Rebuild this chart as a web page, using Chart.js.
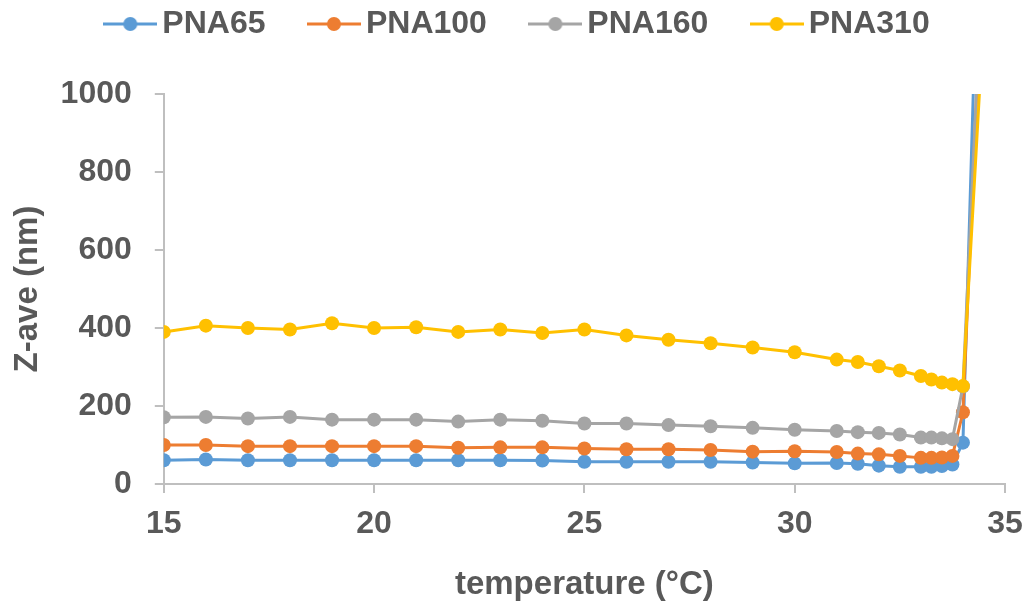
<!DOCTYPE html>
<html>
<head>
<meta charset="utf-8">
<script src="https://cdn.jsdelivr.net/npm/chart.js@4/dist/chart.umd.min.js"></script>
<style>
  html, body { margin: 0; padding: 0; background: #fff; }
  #wrap { width: 1026px; height: 601px; }
</style>
</head>
<body>
<div id="wrap"><canvas id="z_chart"></canvas></div>
<script>
// temperature (°C)
const temps = [15, 16, 17, 18, 19, 20, 21, 22, 23, 24, 25, 26, 27, 28, 29, 30,
               31, 31.5, 32, 32.5, 33, 33.25, 33.5, 33.75, 34, 34.5];

// Z-ave (nm)
const pna65  = [61, 63, 61, 61, 61, 61, 61, 61, 61, 60, 57, 57, 57, 57, 55, 53,
                54, 52, 47, 44, 44, 44, 46, 50, 106, 1930];
const pna100 = [100, 100, 97, 97, 97, 97, 97, 93, 94, 94, 91, 89, 89, 87, 83, 84,
                82, 78, 76, 72, 67, 67, 68, 72, 184, 1435];
const pna160 = [171, 172, 168, 172, 165, 165, 165, 160, 165, 162, 155, 155, 151, 148, 144, 139,
                136, 133, 131, 127, 119, 119, 117, 115, 250, 1420];
const pna310 = [390, 406, 400, 396, 412, 400, 402, 390, 396, 387, 396, 381, 370, 361, 350, 338,
                319, 313, 302, 291, 277, 268, 260, 256, 251, 1210];

const xTicks = [15, 20, 25, 30, 35];
const yTicks = [0, 200, 400, 600, 800, 1000];

const FONT = '"Liberation Sans", Arial, sans-serif';
const TEXT = '#595959';
const AXIS = '#BFBFBF';

function points(vals) {
    const out = [];
    for (let i = 0; i < temps.length; i++) {
        out.push({x: temps[i], y: vals[i]});
    }
    return out;
}

// little line-with-dot picture for the legend
function legendMark(color) {
    const c = document.createElement('canvas');
    c.width = 54;
    c.height = 16;
    const g = c.getContext('2d');
    g.strokeStyle = color;
    g.lineWidth = 3;
    g.beginPath();
    g.moveTo(0, 8);
    g.lineTo(54, 8);
    g.stroke();
    g.fillStyle = color;
    g.beginPath();
    g.arc(27, 8, 7, 0, Math.PI * 2);
    g.fill();
    return c;
}

const series = [
    {label: 'PNA65',  data: pna65,  color: '#5B9BD5', order: 4},
    {label: 'PNA100', data: pna100, color: '#ED7D31', order: 3},
    {label: 'PNA160', data: pna160, color: '#A5A5A5', order: 2},
    {label: 'PNA310', data: pna310, color: '#FFC000', order: 1}
];

// more room between legend and plot
const legendGap = {
    id: 'legendGap',
    beforeInit(chart) {
        const fit = chart.legend.fit;
        chart.legend.fit = function() {
            fit.call(chart.legend);
            this.height += 44;
        };
    }
};

const ctx = document.getElementById('z_chart').getContext('2d');

const chart = new Chart(ctx, {
    type: 'line',
    data: {
        datasets: series.map(s => ({
            label: s.label,
            data: points(s.data),
            borderColor: s.color,
            backgroundColor: s.color,
            borderWidth: 3,
            pointRadius: 7,
            pointHoverRadius: 7,
            pointBorderWidth: 0,
            tension: 0,
            order: s.order
        }))
    },
    plugins: [legendGap],
    options: {
        responsive: true,
        maintainAspectRatio: false,
        animation: false,
        layout: { padding: {left: 18, right: 0, top: 0, bottom: 0} },
        plugins: {
            tooltip: { enabled: false },
            legend: {
                position: 'top',
                labels: {
                    usePointStyle: true,
                    pointStyleWidth: 32,
                    padding: 8,
                    color: TEXT,
                    font: {family: FONT, size: 32, weight: 'bold'},
                    generateLabels: function(ch) {
                        const n = ch.data.datasets.length;
                        return ch.data.datasets.map((d, i) => ({
                            text: d.label + (i < n - 1 ? '\u00A0\u00A0\u00A0\u00A0\u00A0' : ''),
                            fontColor: TEXT,
                            pointStyle: legendMark(d.borderColor),
                            lineWidth: 0,
                            strokeStyle: d.borderColor,
                            fillStyle: d.borderColor,
                            hidden: false,
                            datasetIndex: i
                        }));
                    }
                }
            }
        },
        scales: {
            x: {
                type: 'linear',
                min: 15,
                max: 35,
                afterBuildTicks: axis => { axis.ticks = xTicks.map(v => ({value: v})); },
                afterFit: axis => { axis.paddingRight = 21; },
                grid: {
                    drawOnChartArea: false,
                    drawTicks: true,
                    tickLength: 9,
                    color: AXIS,
                    lineWidth: 2
                },
                border: { color: AXIS, width: 2 },
                ticks: {
                    color: TEXT,
                    padding: 12,
                    maxRotation: 0,
                    callback: v => String(v),
                    font: {family: FONT, size: 32, weight: 'bold'}
                },
                title: {
                    display: true,
                    text: 'temperature (°C)',
                    color: TEXT,
                    padding: {top: 10, bottom: -4},
                    font: {family: FONT, size: 33, weight: 'bold'}
                }
            },
            y: {
                type: 'linear',
                min: 0,
                max: 1000,
                afterBuildTicks: axis => { axis.ticks = yTicks.map(v => ({value: v})); },
                grid: {
                    drawOnChartArea: false,
                    drawTicks: true,
                    tickLength: 9,
                    color: AXIS,
                    lineWidth: 2
                },
                border: { color: AXIS, width: 2 },
                ticks: {
                    color: TEXT,
                    padding: 23,
                    callback: v => String(v),
                    font: {family: FONT, size: 32, weight: 'bold'}
                },
                title: {
                    display: true,
                    text: 'Z-ave (nm)',
                    color: TEXT,
                    padding: {top: -10, bottom: -10},
                    font: {family: FONT, size: 33, weight: 'bold'}
                }
            }
        }
    }
});
</script>
</body>
</html>
